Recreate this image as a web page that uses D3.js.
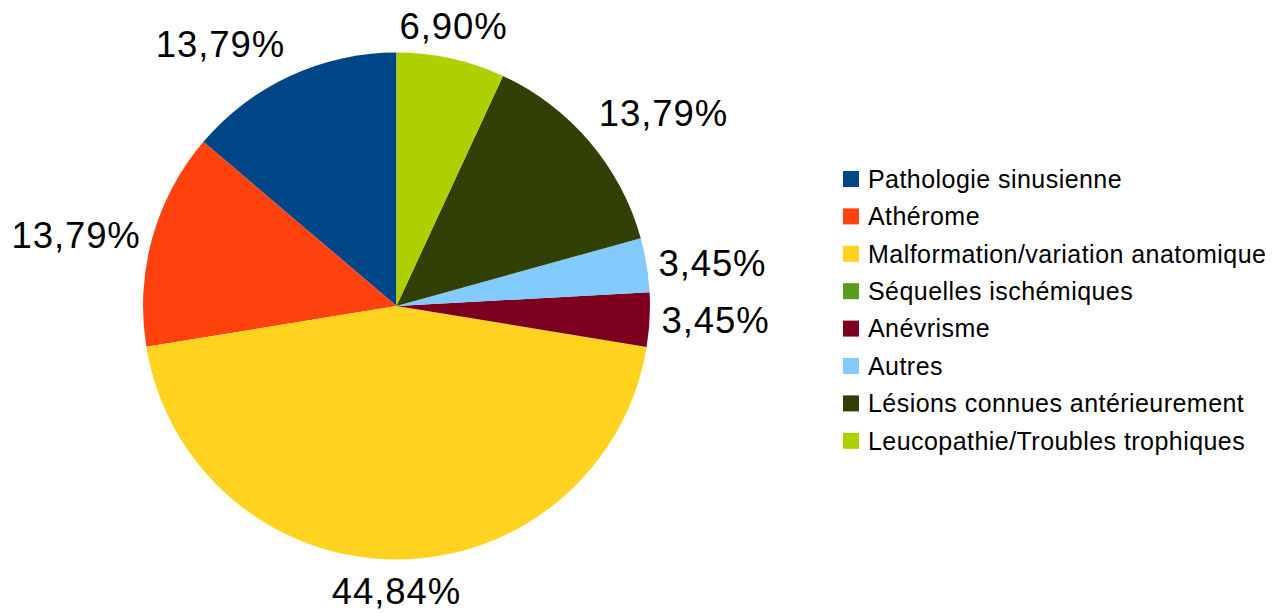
<!DOCTYPE html>
<html>
<head>
<meta charset="utf-8">
<script src="https://cdn.jsdelivr.net/npm/d3@7"></script>
<style>
  body { margin: 0; background: #ffffff; }
  svg { display: block; font-family: "Liberation Sans", Arial, sans-serif; }
</style>
</head>
<body>
<div id="chart"></div>
<script>
// categories in data order (LibreOffice draws them counter-clockwise from 12 o'clock)
var categories = ["Pathologie sinusienne", "Athérome", "Malformation/variation anatomique",
  "Séquelles ischémiques", "Anévrisme", "Autres", "Lésions connues antérieurement",
  "Leucopathie/Troubles trophiques"];
var values = [13.79, 13.79, 44.84, 0, 3.45, 3.45, 13.79, 6.90];
var labels = ["13,79%", "13,79%", "44,84%", "", "3,45%", "3,45%", "13,79%", "6,90%"];
var colors = ["#004586", "#ff420e", "#ffd320", "#579d1c", "#7e0021", "#83caff", "#314004", "#aecf00"];

var W = 1281, H = 613;
var cx = 396.5, cy = 306, R = 253.5;
var labelFont = 36.5, legendFont = 25, gap = 12;

var svg = d3.select("#chart").append("svg")
    .attr("width", W)
    .attr("height", H);

var data = categories.map(function(c, i) {
  return { name: c, value: values[i], label: labels[i], color: colors[i] };
});

// counter-clockwise from the top
var pie = d3.pie()
    .sort(null)
    .value(function(d) { return d.value; })
    .startAngle(0)
    .endAngle(-2 * Math.PI);

var arc = d3.arc().innerRadius(0).outerRadius(R);

var g = svg.append("g").attr("transform", "translate(" + cx + "," + cy + ")");

var arcs = pie(data);

g.selectAll(".slice")
  .data(arcs)
  .enter().append("path")
  .attr("class", "slice")
  .attr("d", arc)
  .attr("fill", function(d) { return d.data.color; });

// labels outside, anchored by octant like LibreOffice
var lim = Math.sin(Math.PI / 8);
g.selectAll(".lbl")
  .data(arcs.filter(function(d) { return d.data.value > 0; }))
  .enter().append("text")
  .attr("class", "lbl")
  .attr("font-size", labelFont)
  .attr("letter-spacing", 0.9)
  .attr("fill", "#000")
  .each(function(d) {
    var a = (d.startAngle + d.endAngle) / 2;
    var sx = Math.sin(a), sy = -Math.cos(a);
    var qx = (R + gap) * sx, qy = (R + gap) * sy;
    var anchor = Math.abs(sx) < lim ? "middle" : (sx > 0 ? "start" : "end");
    var by;
    if (Math.abs(sy) < lim) by = qy + 0.35 * labelFont;
    else if (sy < 0) by = qy - 0.212 * labelFont;
    else by = qy + 0.88 * labelFont;
    d3.select(this)
      .attr("x", qx)
      .attr("y", by)
      .attr("text-anchor", anchor)
      .text(d.data.label);
  });

// legend
var legX = 843, legY0 = 179, legStep = 37.4, sq = 16;
var leg = svg.append("g").attr("class", "legend");
var item = leg.selectAll(".item")
  .data(data)
  .enter().append("g")
  .attr("class", "item")
  .attr("transform", function(d, i) { return "translate(" + legX + "," + (legY0 + i * legStep) + ")"; });

item.append("rect")
  .attr("x", 0)
  .attr("y", -sq / 2)
  .attr("width", sq)
  .attr("height", sq)
  .attr("fill", function(d) { return d.color; });

item.append("text")
  .attr("x", 25)
  .attr("y", 0.35 * legendFont)
  .attr("font-size", legendFont)
  .attr("letter-spacing", 0.45)
  .attr("fill", "#000")
  .text(function(d) { return d.name; });
</script>
</body>
</html>
